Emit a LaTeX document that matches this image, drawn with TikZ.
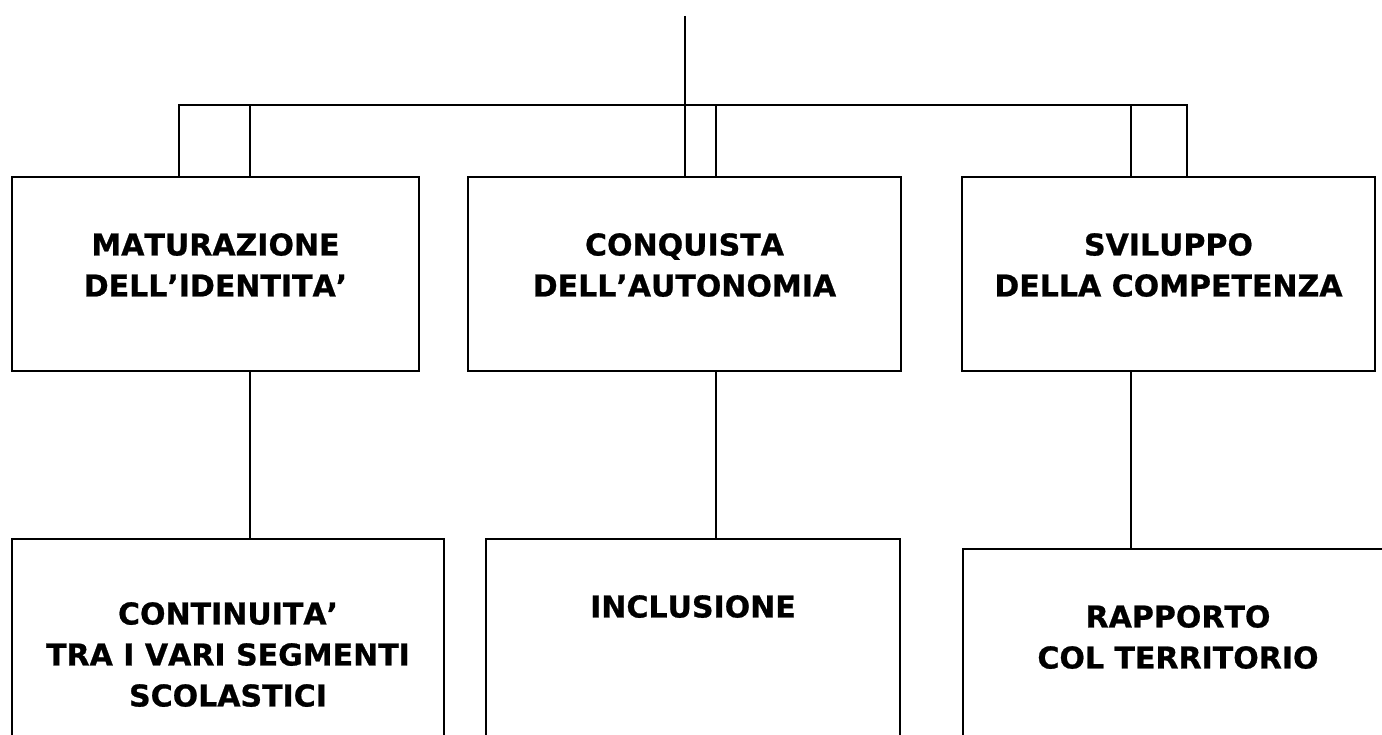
\documentclass[tikz,border=0pt]{standalone}
\usepackage{fontspec}
\setmainfont{DejaVu Sans}[Kerning=Off, BoldFeatures={FakeBold=0.8, Kerning=Off}]
\begin{document}
\begin{tikzpicture}[x=1pt,y=-1pt,
  conn/.style={line width=1.8pt, line cap=butt},
  box/.style={draw, line width=1.8pt, inner sep=0pt, outer sep=0pt},
  lbl/.style={anchor=north, inner sep=0pt, align=center, font=\bfseries\fontsize{30}{41}\selectfont}]
\useasboundingbox (0,0) rectangle (1382,735);
\clip (0,0) rectangle (1382,735);
\fill[white] (0,0) rectangle (1382,735);
% boxes
\node[box, minimum width=407pt, minimum height=194pt] (b1) at (215.5,274) {};
\node[box, minimum width=433pt, minimum height=194pt] (b2) at (684.5,274) {};
\node[box, minimum width=413pt, minimum height=194pt] (b3) at (1168.5,274) {};
\node[box, minimum width=432pt, minimum height=241pt] (b4) at (228,659.5) {};
\node[box, minimum width=414pt, minimum height=241pt] (b5) at (693,659.5) {};
\node[box, minimum width=430pt, minimum height=231pt] (b6) at (1178,664.5) {};
% labels
\node[lbl] (t1) at (215.5,233) {MATURAZIONE\\DELL’IDENTITA’};
\node[lbl] (t2) at (684.5,233) {CONQUISTA\\DELL’AUTONOMIA};
\node[lbl] (t3) at (1168.5,233) {SVILUPPO\\DELLA COMPETENZA};
\node[lbl] (t4) at (228,602) {CONTINUITA’\\TRA I VARI SEGMENTI\\SCOLASTICI};
\node[lbl] (t5) at (693,595) {INCLUSIONE};
\node[lbl] (t6) at (1178,605) {RAPPORTO\\COL TERRITORIO};
% bus coordinates
\coordinate (top) at (685,16);
\coordinate (busM) at (685,105);
\coordinate (busL) at (179,105);
\coordinate (busR) at (1187,105);
\coordinate (j1) at (250,105);
\coordinate (j2) at (716,105);
\coordinate (j3) at (1131,105);
% connectors
\draw[conn] (busL |- b1.north) -- (busL) -- (busR) -- (busR |- b3.north);
\draw[conn] (top) -- (busM) -- (busM |- b2.north);
\draw[conn] (j1) -- (j1 |- b1.north);
\draw[conn] (j2) -- (j2 |- b2.north);
\draw[conn] (j3) -- (j3 |- b3.north);
\draw[conn] (j1 |- b1.south) -- (j1 |- b4.north);
\draw[conn] (j2 |- b2.south) -- (j2 |- b5.north);
\draw[conn] (j3 |- b3.south) -- (j3 |- b6.north);
\end{tikzpicture}
\end{document}
